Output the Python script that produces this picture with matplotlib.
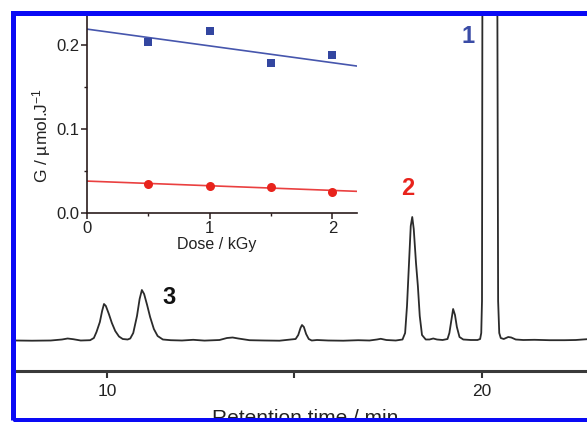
#!/usr/bin/env python3
"""Chromatogram with inset of G values vs dose, saved to out.png."""
import matplotlib
matplotlib.use('Agg')
import matplotlib.pyplot as plt
from matplotlib.patches import Rectangle
from matplotlib.ticker import MultipleLocator, FixedLocator, FormatStrFormatter

plt.rcParams['font.family'] = ['Liberation Sans', 'DejaVu Sans']
plt.rcParams['mathtext.default'] = 'regular'

# chromatogram trace (time in min, signal in a.u.)
ret_time = [7.55, 8.0, 8.5, 8.8, 8.95, 9.1, 9.3, 9.55, 9.65, 9.72, 9.81, 9.87, 9.92, 9.97,
            10.05, 10.13, 10.22, 10.32, 10.42, 10.55, 10.62, 10.7, 10.8, 10.87, 10.93, 10.99,
            11.07, 11.15, 11.25, 11.35, 11.49, 11.7, 12.0, 12.3, 12.6, 13.0, 13.2, 13.35, 13.5,
            13.8, 14.2, 14.6, 14.9, 15.03, 15.1, 15.16, 15.2, 15.25, 15.31, 15.38, 15.46, 15.6,
            15.9, 16.3, 16.7, 17.0, 17.2, 17.3, 17.45, 17.7, 17.88, 17.95, 18.0, 18.05, 18.1,
            18.14, 18.18, 18.24, 18.29, 18.34, 18.4, 18.5, 18.6, 18.7, 18.8, 18.95, 19.08, 19.13,
            19.18, 19.23, 19.28, 19.33, 19.4, 19.5, 19.7, 19.88, 19.95, 19.98, 20.0, 20.01, 20.2,
            20.41, 20.43, 20.46, 20.5, 20.58, 20.7, 20.78, 20.9, 21.1, 21.4, 21.8, 22.2, 22.5, 22.8]
signal = [0.5, 0.3, 0.5, 1.5, 2.5, 1.8, 0.5, 0.8, 3, 9, 19, 30, 37, 35,
          27, 18, 10, 4.5, 2, 1.5, 2.5, 8, 25, 42, 51, 47,
          36, 24, 12, 5, 1.5, 0.8, 0.5, 1.2, 0.4, 1, 3, 3.5, 2.5,
          0.8, 0.5, 0.3, 1.5, 2, 6, 13, 16, 14, 7, 2, 0.5, 1,
          0.5, 0.3, 0.8, 0.5, 1.5, 2.2, 1, 0.5, 1.5, 8, 35, 75, 115,
          124, 112, 78, 55, 25, 6, 1.5, 1.5, 2.5, 1.5, 1, 2, 8,
          20, 32, 26, 14, 4, 1.5, 1, 1, 2, 8, 40, 330, 2500,
          330, 40, 8, 3, 2, 4, 3.5, 1.5, 1, 1.2, 0.8, 0.8, 1, 1.8]

# peak labels: text, time, signal, colour
peak_labels = ['1', '2', '3']
peak_label_t = [19.63, 18.03, 11.65]
peak_label_s = [298, 146, 37]
peak_label_colors = ['#3a4ca6', '#e8231c', '#111111']

# inset: radiation chemical yield vs dose
dose = [0.5, 1.0, 1.5, 2.0]
g_peak1 = [0.204, 0.217, 0.179, 0.188]
g_peak2 = [0.0345, 0.0325, 0.031, 0.0254]
fit_dose = [0.0, 2.2]
fit_peak1 = [0.219, 0.175]
fit_peak2 = [0.038, 0.0258]

W, H = 587, 422
fig = plt.figure(figsize=(W / 100, H / 100), dpi=100)
fig.patch.set_facecolor('white')


def px_box(left, top, right, bottom):
    return (left / W, (H - bottom) / H, (right - left) / W, (bottom - top) / H)


# --- main chromatogram ---
ax = fig.add_axes(px_box(15, 14, 587, 371))
ax.plot(ret_time, signal, color='#2b2b2b', linewidth=1.3)
ax.set_xlim(7.547, 22.8)
ax.set_ylim(-30, 327)
for side in ('top', 'right', 'left'):
    ax.spines[side].set_visible(False)
ax.spines['bottom'].set_linewidth(2.2)
ax.spines['bottom'].set_color('#3a3a3a')
ax.set_yticks([])
ax.xaxis.set_major_locator(FixedLocator([10, 20]))
ax.xaxis.set_minor_locator(FixedLocator([15]))
ax.tick_params(axis='x', which='both', direction='out', length=5, width=1.5,
               color='#333333', labelsize=12.5, labelcolor='#222222', pad=4.5)
ax.set_xlabel('Retention time / min', fontsize=15, color='#222222')
ax.xaxis.set_label_coords(0.507, -0.1065)

for txt, t, s, c in zip(peak_labels, peak_label_t, peak_label_s, peak_label_colors):
    ax.text(t, s, txt, color=c, fontsize=17, fontweight='bold', ha='center', va='baseline')

# --- inset ---
ins = fig.add_axes(px_box(87, 14, 357, 213))
ins.set_facecolor('none')
ins.plot(fit_dose, fit_peak1, color='#4656ad', linewidth=1.2)
ins.plot(fit_dose, fit_peak2, color='#ea4040', linewidth=1.2)
ins.plot(dose, g_peak1, 's', color='#3346a0', markersize=6.3, markeredgewidth=0)
ins.plot(dose, g_peak2, 'o', color='#e8231c', markersize=6.5, markeredgewidth=0)
ins.set_xlim(0, 2.2)
ins.set_ylim(0, 0.237)
ins.spines['top'].set_visible(False)
ins.spines['right'].set_visible(False)
for side in ('left', 'bottom'):
    ins.spines[side].set_linewidth(1.2)
    ins.spines[side].set_color('#2a1c1c')
ins.xaxis.set_major_locator(MultipleLocator(1))
ins.xaxis.set_minor_locator(MultipleLocator(0.5))
ins.yaxis.set_major_locator(MultipleLocator(0.1))
ins.yaxis.set_minor_locator(MultipleLocator(0.05))
ins.yaxis.set_major_formatter(FormatStrFormatter('%.1f'))
ins.tick_params(which='major', direction='out', length=4, width=1.1, color='#2a1c1c',
                labelsize=12, labelcolor='#222222', pad=1.5)
ins.tick_params(which='minor', direction='out', length=2.5, width=1.0, color='#2a1c1c')
ins.set_xlabel('Dose / kGy', fontsize=11.5, color='#222222')
ins.xaxis.set_label_coords(0.48, -0.12)
ins.set_ylabel('G / µmol.J$^{-1}$', fontsize=12.5, color='#222222')
ins.yaxis.set_label_coords(-0.125, 0.387)

# blue frame around the figure (right side lies outside the crop)
fig.patches.append(Rectangle((12.5 / W, 2.5 / H), 1.2, 407 / H, transform=fig.transFigure,
                             fill=False, edgecolor='#0a0af5', linewidth=3.6, zorder=10))

fig.savefig('out.png', dpi=100)
